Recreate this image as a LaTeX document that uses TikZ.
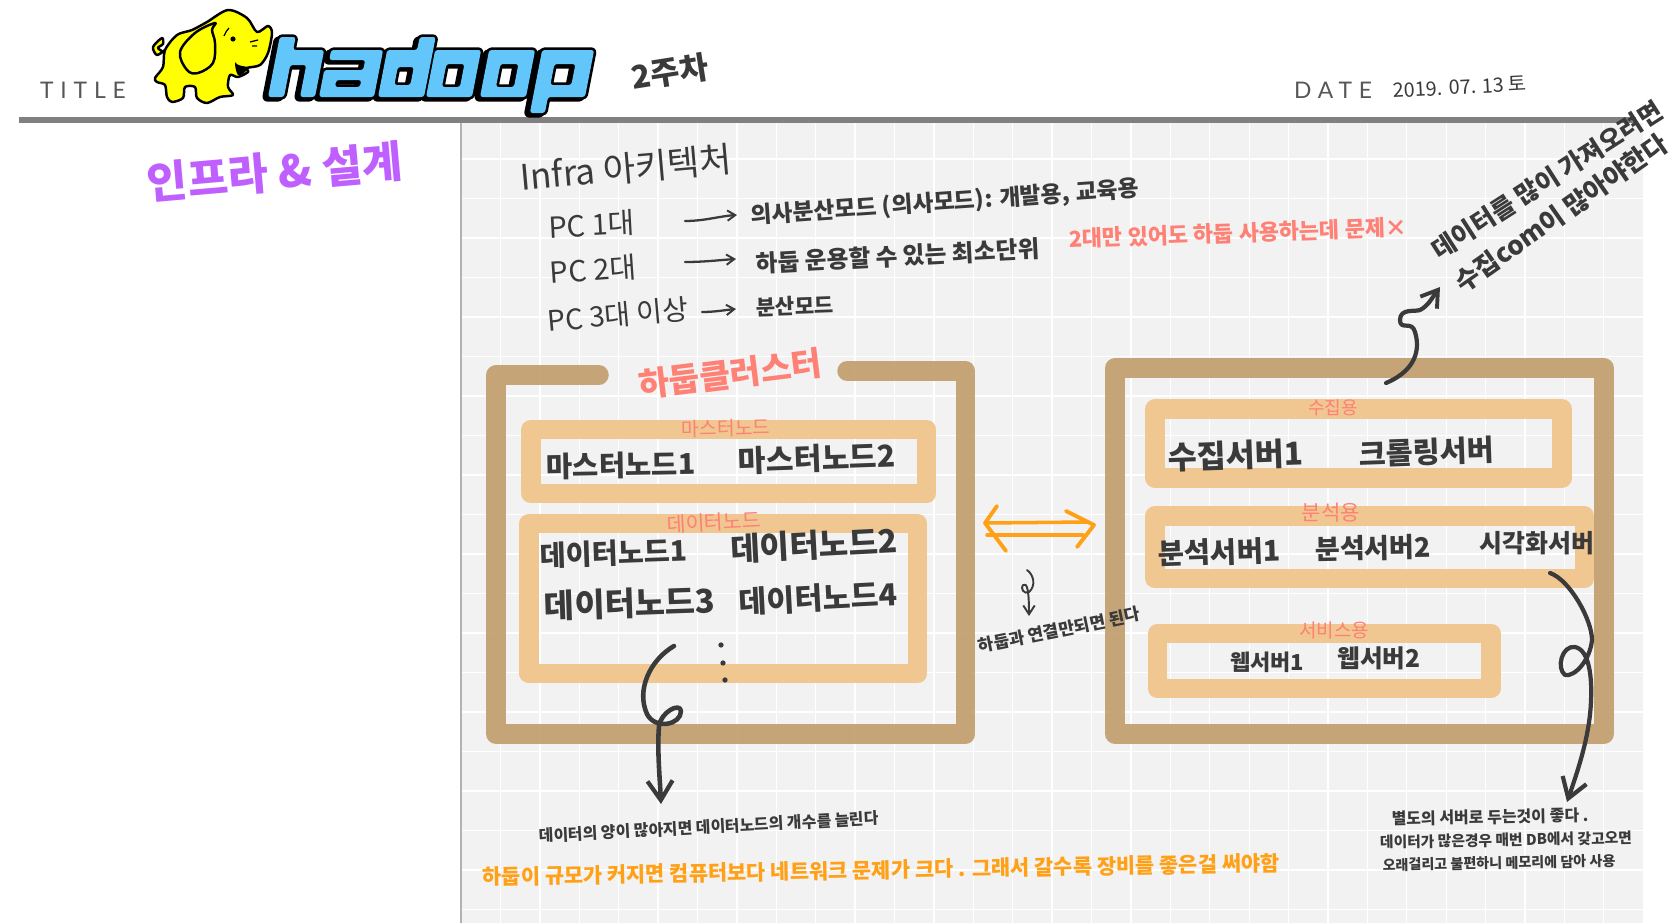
\documentclass[tikz,border=0pt]{standalone}
\usepackage{fontspec}
\usepackage{tikz}
\usetikzlibrary{arrows.meta,calc}
\setmainfont{Noto Sans CJK KR}
\newfontfamily\titlefont[LetterSpace=30]{Lato}
\definecolor{inkgray}{HTML}{3A3A3A}
\definecolor{paperbg}{HTML}{F2F2F2}
\definecolor{framebrown}{HTML}{C2A06F}
\definecolor{boxorange}{HTML}{F0C48C}
\definecolor{notered}{HTML}{FF8075}
\definecolor{noteorange}{HTML}{FFA016}
\definecolor{titlepurple}{HTML}{BF5FFF}
\definecolor{logoblue}{HTML}{62C6FB}
\definecolor{elephantyellow}{HTML}{FFFF00}
\newcommand{\sz}[1]{\fontsize{#1}{#1}\selectfont}
\newcommand{\hb}[1]{\bfseries\fontsize{#1}{#1}\selectfont}
\newcommand{\logopath}{
  (268,0) -- (268,-60) -- (284,-60) -- (284,-47) -- (315,-47) -- (315,0) -- (300,0) -- (300,-32) -- (284,-32) -- (284,0) -- cycle
  (319,0) -- (319,-27) -- (358,-27) -- (358,-37) -- (322,-37) -- (322,-47) -- (374,-47) -- (374,0) -- cycle
  (333,-10) rectangle (358,-17)
  (378,0) -- (378,-47) -- (408,-47) -- (408,-60) -- (424,-60) -- (424,0) -- cycle
  (392,-12) rectangle (408,-30)
  (426,0) rectangle (472,-47) (440,-10) rectangle (458,-33)
  (480,0) rectangle (526,-47) (494,-10) rectangle (512,-33)
  (533,-47) -- (585,-47) -- (585,0) -- (548,0) -- (548,16) -- (533,16) -- cycle
  (548,-12) rectangle (569,-33)}

\begin{document}
\begin{tikzpicture}[
    x=0.02cm, y=-0.02cm,
    gridln/.style={white, line width=0.7pt},
    brownframe/.style={draw=framebrown, line width=11.1pt, opacity=.93, line join=round, line cap=round},
    orangebox/.style={draw=boxorange, line width=11.1pt, opacity=.95, line join=round},
    handtxt/.style={inner sep=0pt, text=inkgray},
    redtxt/.style={inner sep=0pt, text=notered},
    orangetxt/.style={inner sep=0pt, text=noteorange},
    hand/.style={draw=inkgray, line cap=round, line join=round, line width=#1},
    hand/.default=1pt,
    handhead/.style 2 args={-{Straight Barb[length=#1, width=1.3*#1, line width=#2]}},
    swap/.style={draw=noteorange, line width=2.2pt, line cap=round, line join=round},
    handdot/.style={circle, fill=inkgray, inner sep=0pt, minimum size=3pt},
    elephant/.style={draw=black, fill=elephantyellow, line width=1.4pt, line join=round},
  ]
  \useasboundingbox (0,0) rectangle (1670,923);
  \fill[white] (0,0) rectangle (1670,923);

  % paper with its grid
  \fill[paperbg] (461,123) rectangle (1643,923);
  \foreach \gx in {0,...,29}
    \draw[gridln] ({500.5+39.4*\gx},123) -- ({500.5+39.4*\gx},923);
  \foreach \gy in {0,...,19}
    \draw[gridln] (461,{159+39.5*\gy}) -- (1643,{159+39.5*\gy});
  \draw[gray!60, line width=0.6pt] (461,123) -- (461,923);
  \fill[gray] (19,117) rectangle (1636,123);

  % heading
  \node (title) [inner sep=0pt, text=inkgray!85, font=\titlefont\sz{13}] at (83,90.5) {TITLE};
  \node (date) [inner sep=0pt, text=inkgray!85, font=\titlefont\sz{13}] at (1333,90.5) {DATE};
  \node (week) [handtxt, rotate=9, font=\hb{18}] at (670,72) {2주차};
  \node (today) [handtxt, rotate=3, font=\sz{11.3}] at (1460,87) {2019. 07. 13 토};
  \node (topic) [inner sep=0pt, text=titlepurple, rotate=5, font=\hb{25}] at (275,172) {인프라 \& 설계};

  % logo
  \begin{scope}[shift={(0,97)}, xslant=.195, rounded corners=1.5pt]
    \draw[black, line width=3pt, line join=round, shift={(-3,2)}] \logopath;
    \draw[black, line width=3pt, line join=round] \logopath;
    \fill[logoblue, even odd rule] \logopath;
  \end{scope}
  \draw[elephant] plot[smooth, tension=.5] coordinates {(165,50) (157,55) (153,47) (162,38) (163,44) (158,48) (165,53)};
  \draw[elephant] plot[smooth cycle, tension=.5] coordinates {(228,10) (247,18) (257,32) (268,26) (272,33) (268,53) (260,65) (247,68) (248,72) (238,77) (230,75) (228,87) (233,95) (220,97) (207,103) (197,98) (195,87) (185,87) (183,98) (172,102) (167,97) (165,85) (157,82) (155,78) (163,67) (165,50) (177,35) (192,30) (207,22)};
  \draw[elephant] plot[smooth cycle, tension=.6] coordinates {(215,23) (195,33) (180,52) (187,70) (198,73) (213,63) (215,43) (212,30)};
  \fill[black] (235,62) .. controls (237,66) and (243,66) .. (248,67) .. controls (247,72) and (241,76) .. (238,75) .. controls (236,72) and (235,67) .. (235,62);
  \fill[black] (233,39) circle (2.6);
  \draw[black, line width=0.7pt] (224,36) .. controls (225,33) and (227,30) .. (229,28) (250,42) -- (258,40) (252,46) -- (257,46);

  % what was noted about the infrastructure
  \node (infra) [handtxt, rotate=5, font=\sz{20}] at (626,168) {Infra 아키텍처};
  \node (pcone) [handtxt, rotate=3, font=\sz{16.5}] at (592,225) {PC 1대};
  \node (pctwo) [handtxt, rotate=4, font=\sz{16.5}] at (593,270) {PC 2대};
  \node (pcmore) [handtxt, rotate=5, font=\sz{16}] at (618,315) {PC 3대 이상};
  \node (pseudo) [handtxt, rotate=4, font=\hb{13}] at (945,203) {의사분산모드 (의사모드): 개발용, 교육용};
  \node (minunit) [handtxt, rotate=3, font=\hb{13.5}] at (898,256) {하둡 운용할 수 있는 최소단위};
  \node (dist) [handtxt, rotate=2, font=\hb{12}] at (795,306) {분산모드};
  \node (twoenough) [redtxt, rotate=2, font=\hb{12.5}] at (1238,233) {2대만 있어도 하둡 사용하는데 문제×};
  \coordinate (pconeE) at (685,221);
  \coordinate (pctwoE) at (685,262);
  \coordinate (pcmoreE) at (702,312);
  \coordinate (pseudoW) at (737,215);
  \coordinate (minunitW) at (736,259);
  \coordinate (distW) at (736,309);
  \draw[hand=1.3pt, handhead={4.5pt}{1.1pt}] (pconeE) .. controls (705,221) and (720,216) .. (pseudoW);
  \draw[hand=1.3pt, handhead={4.5pt}{1.1pt}] (pctwoE) .. controls (705,262) and (720,260) .. (minunitW);
  \draw[hand=1.3pt, handhead={4.5pt}{1.1pt}] (pcmoreE) .. controls (715,312) and (725,310) .. (distW);
  \node (manydata) [handtxt, rotate=32.6, font=\hb{14.4}] at (1547,180) {데이터를 많이 가져오려면};
  \node (manycoll) [handtxt, rotate=35, font=\hb{14.8}] at (1561,213) {수집com이 많아야한다};

  % hadoop cluster
  \draw[brownframe] (599,375) -- (496,375) -- (496,734) -- (965.5,734) -- (965.5,371) -- (847,371);
  \draw[orangebox] (531,429.5) rectangle (926.5,493.5);
  \draw[orangebox] (529,523.5) rectangle (917.5,673.5);
  \node (cluster) [inner sep=0pt, text=notered, rotate=7, font=\hb{19}] at (730,374) {하둡클러스터};
  \node (masterlbl) [redtxt, rotate=1, font=\sz{11}] at (726,428) {마스터노드};
  \node (datalbl) [redtxt, rotate=3, font=\sz{11.7}] at (714,522) {데이터노드};
  \foreach \nm/\txt/\px/\py/\rt/\fs in {
      mastera/마스터노드1/621/465/1/16.3, masterb/마스터노드2/817/458/2/17.2,
      dataa/데이터노드1/614/553/2/16.1, datab/데이터노드2/814/545/3/18.3,
      datac/데이터노드3/630/603/2/18.7, datad/데이터노드4/818/598/3/17.3}
    \node (\nm) [handtxt, rotate=\rt, font=\hb{\fs}] at (\px,\py) {\txt};
  \foreach \i/\px/\py in {1/721/645, 2/723/663, 3/725/680}
    \node (vdot\i) [handdot] at (\px,\py) {};

  % servers outside the cluster
  \draw[brownframe] (1115,368) rectangle (1604,734);
  \draw[orangebox] (1155,409) rectangle (1562,478);
  \draw[orangebox] (1155,516) rectangle (1584.5,578.5);
  \draw[orangebox] (1157.5,633.5) rectangle (1491,688.5);
  \node (collectlbl) [redtxt, font=\sz{10.3}] at (1333,408) {수집용};
  \node (analyzelbl) [redtxt, font=\sz{12}] at (1331,513) {분석용};
  \node (servicelbl) [redtxt, font=\sz{10.8}] at (1334,630) {서비스용};
  \foreach \nm/\txt/\px/\py/\rt/\fs in {
      collect/수집서버1/1236/455/2/18, crawl/크롤링서버/1427/452/2/16.7,
      analyzea/분석서버1/1219/552/2/16.3, analyzeb/분석서버2/1373/548/1/15.4,
      visual/시각화서버/1537/543/0/14.2, weba/웹서버1/1267/662/0/12.5, webb/웹서버2/1379/658/0/14}
    \node (\nm) [handtxt, rotate=\rt, font=\hb{\fs}] at (\px,\py) {\txt};

  % link between both
  \coordinate (linkL) at (985,523);
  \coordinate (linkR) at (1094,525);
  \draw[swap] (997,506) -- (linkL) -- (1006,551);
  \draw[swap] (1066,511) -- (linkR) -- (1077,547);
  \draw[swap, line width=2pt] (linkL) -- (1087,522);
  \draw[swap, line width=2pt] (987,535) -- (1083,535);

  % notes
  \node (linked) [handtxt, rotate=11.5, font=\hb{9.7}] at (1059,630) {하둡과 연결만되면 된다};
  \node (morenodes) [handtxt, rotate=3, font=\hb{9.05}] at (709,827) {데이터의 양이 많아지면 데이터노드의 개수를 늘린다};
  \node (bignet) [orangetxt, rotate=1, font=\hb{11.9}] at (881,870) {하둡이 규모가 커지면 컴퓨터보다 네트워크 문제가 크다 . 그래서 갈수록 장비를 좋은걸 써야함};
  \node (sepa) [handtxt, rotate=1, font=\hb{9.1}] at (1490,817) {별도의 서버로 두는것이 좋다 .};
  \node (sepb) [handtxt, rotate=1, font=\hb{8.4}] at (1506,840) {데이터가 많은경우 매번 DB에서 갖고오면};
  \node (sepc) [handtxt, rotate=1, font=\hb{8}] at (1499,863) {오래걸리고 불편하니 메모리에 담아 사용};

  % hand drawn arrows
  \coordinate (bigS) at (674,646);
  \coordinate (bigE) at (661,804);
  \draw[hand=2.6pt, handhead={11pt}{2.4pt}] (bigS) .. controls (650,660) and (636,690) .. (647,714)
    .. controls (655,730) and (681,725) .. (681,711) .. controls (680,702) and (661,712) .. (659,726)
    .. controls (657,750) and (660,780) .. (bigE);
  \coordinate (upS) at (1386,383);
  \coordinate (upE) at (1440,287);
  \draw[hand=2.4pt, handhead={9pt}{2.2pt}] (upS) .. controls (1410,373) and (1422,355) .. (1415,332)
    .. controls (1412,320) and (1400,331) .. (1400,320) .. controls (1400,308) and (1415,312) .. (1420,310)
    .. controls (1428,306) and (1432,298) .. (upE);
  \coordinate (sideS) at (1550,573);
  \coordinate (sideE) at (1567,802);
  \draw[hand=2.4pt, handhead={11pt}{2.4pt}] (sideS) .. controls (1570,580) and (1592,620) .. (1592,640)
    .. controls (1590,660) and (1575,677) .. (1565,675) .. controls (1556,668) and (1562,645) .. (1575,647)
    .. controls (1590,650) and (1592,680) .. (1591,700) .. controls (1590,735) and (1578,770) .. (sideE);
  \coordinate (linkS) at (1027,570);
  \coordinate (linkE) at (1029,616);
  \draw[hand=1.1pt, handhead={5pt}{1.1pt}] (linkS) .. controls (1034,575) and (1036,586) .. (1029,592)
    .. controls (1024,595) and (1020,588) .. (1023,585) .. controls (1027,582) and (1029,590) .. (linkE);
\end{tikzpicture}
\end{document}
